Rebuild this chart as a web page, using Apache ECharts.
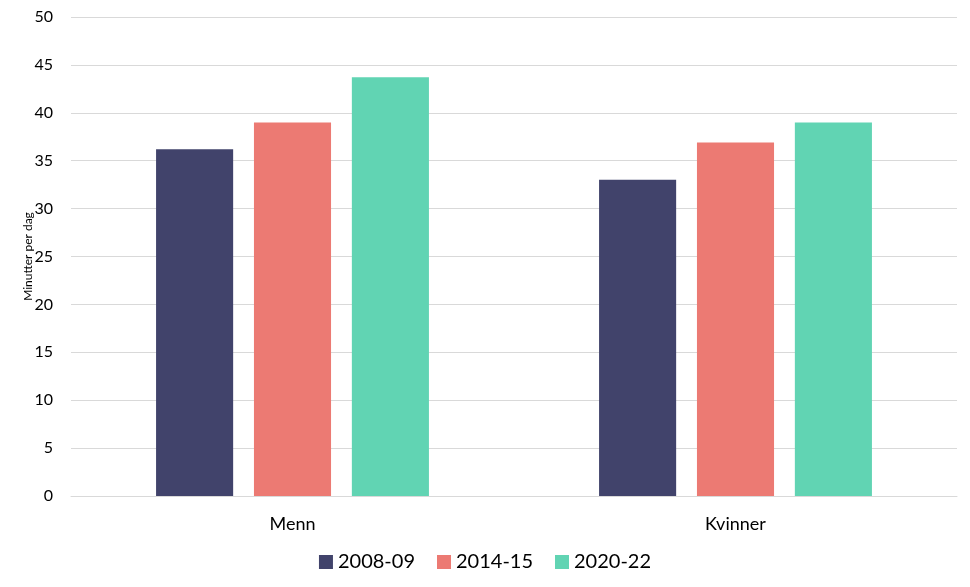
<!DOCTYPE html>
<html>
<head>
<meta charset="utf-8">
<script src="https://cdn.jsdelivr.net/npm/echarts@6/dist/echarts.min.js"></script>
<style>
  html, body { margin: 0; padding: 0; background: #fff; }
  #chart { width: 970px; height: 587px; }
</style>
</head>
<body>
<div id="chart"></div>
<script>
const categories = ['Menn', 'Kvinner'];
const seriesNames = ['2008-09', '2014-15', '2020-22'];
const values2008 = [36.2, 33.0];
const values2014 = [39.0, 36.9];
const values2020 = [43.7, 39.0];
const colors = ['#41436b', '#ec7a73', '#61d4b3'];

const chart = echarts.init(document.getElementById('chart'));
const font = 'Lato, "Open Sans", sans-serif';

const option = {
  animation: false,
  backgroundColor: '#fff',
  textStyle: { fontFamily: font },
  grid: { left: 71, right: 13, top: 17, bottom: 91 },
  legend: {
    bottom: 10,
    left: 'center',
    itemWidth: 14,
    itemHeight: 14,
    itemGap: 22,
    icon: 'rect',
    textStyle: { fontSize: 20, color: '#000', fontFamily: font },
    data: seriesNames
  },
  xAxis: {
    type: 'category',
    data: categories,
    axisTick: { show: false },
    axisLine: { lineStyle: { color: '#d9d9d9' } },
    axisLabel: { fontSize: 18, color: '#000', margin: 19 }
  },
  yAxis: {
    type: 'value',
    min: 0,
    max: 50,
    interval: 5,
    name: 'Minutter per dag',
    nameLocation: 'middle',
    nameGap: 37,
    nameMoveOverlap: false,
    nameTextStyle: { fontSize: 12, color: '#000' },
    axisLabel: { fontSize: 16, color: '#000', margin: 18 },
    splitLine: { lineStyle: { color: '#d9d9d9' } }
  },
  series: [
    { name: seriesNames[0], type: 'bar', data: values2008, itemStyle: { color: colors[0] }, barWidth: '17.4%', barGap: '27%' },
    { name: seriesNames[1], type: 'bar', data: values2014, itemStyle: { color: colors[1] }, barWidth: '17.4%', barGap: '27%' },
    { name: seriesNames[2], type: 'bar', data: values2020, itemStyle: { color: colors[2] }, barWidth: '17.4%', barGap: '27%' }
  ]
};

chart.setOption(option);
</script>
</body>
</html>
